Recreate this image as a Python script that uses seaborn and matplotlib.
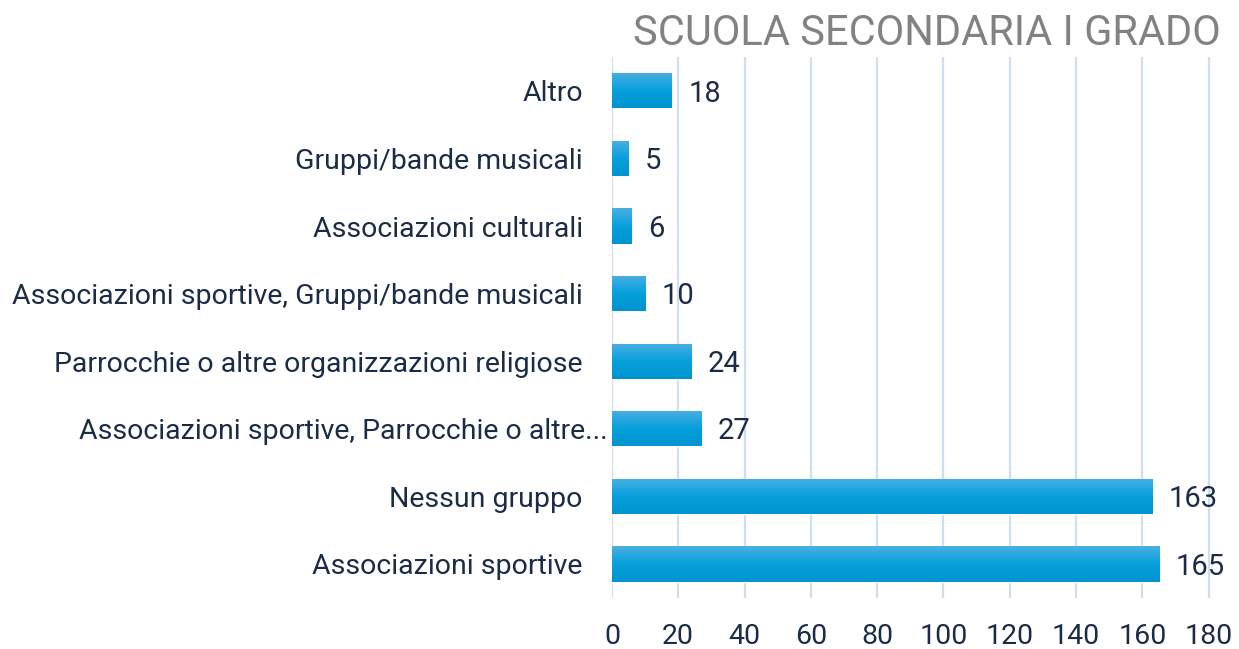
import numpy as np
import pandas as pd
import matplotlib.pyplot as plt
import matplotlib.transforms as mtransforms
import seaborn as sns

categories = [
    "Altro",
    "Gruppi/bande musicali",
    "Associazioni culturali",
    "Associazioni sportive, Gruppi/bande musicali",
    "Parrocchie o altre organizzazioni religiose",
    "Associazioni sportive, Parrocchie o altre...",
    "Nessun gruppo",
    "Associazioni sportive",
]
values = [18, 5, 6, 10, 24, 27, 163, 165]
x_ticks = [0, 20, 40, 60, 80, 100, 120, 140, 160, 180]

df = pd.DataFrame({"categoria": categories, "valore": values})

sns.set_theme(style="white")
plt.rcParams['font.family'] = ['Roboto', 'DejaVu Sans']

text_col = "#1b2c46"
fig = plt.figure(figsize=(12.39, 6.49), dpi=100)
ax = fig.add_axes([0.4939, 0.079, 0.4843, 0.833])

sns.barplot(data=df, y="categoria", x="valore", orient="h", color="#0a9dd9",
            width=0.52, ax=ax, zorder=3)

# vertical gradient on each bar (lighter at the top)
grad = np.linspace(0, 1, 64).reshape(-1, 1)
cmap = plt.matplotlib.colors.LinearSegmentedColormap.from_list(
    "bar", ["#4aafe1", "#07a0dc", "#0094cf"])
for p in ax.patches:
    x0, y0 = p.get_x(), p.get_y()
    w, h = p.get_width(), p.get_height()
    im = ax.imshow(grad, cmap=cmap, aspect="auto", extent=[x0, x0 + w, y0 + h, y0],
                   zorder=3.5)
    im.set_clip_path(p)

for p, v in zip(ax.patches, values):
    ax.text(p.get_width() + 5, p.get_y() + p.get_height() / 2 + 0.04, str(v),
            va="center", ha="left", fontsize=21, color=text_col, zorder=5)

ax.set_xlim(0, 181)
ax.set_ylim(7.5, -0.5)
ax.set_xticks(x_ticks)
ax.set_xticklabels([str(t) for t in x_ticks], fontsize=20.5, color=text_col)
ax.tick_params(axis="x", length=0, pad=18)
ax.tick_params(axis="y", length=0, pad=21, labelsize=20.5, labelcolor=text_col)
ax.set_xlabel("")
ax.set_ylabel("")
ax.grid(axis="x", color="#cfdff0", linewidth=1.6, zorder=0)
ax.set_axisbelow(True)
sns.despine(ax=ax, left=True, bottom=True)

# truncated label sits closer to the axis, like in the original
for lab in ax.get_yticklabels():
    if lab.get_text().endswith("..."):
        lab.set_transform(lab.get_transform() +
                          mtransforms.ScaledTranslation(0.25, 0, fig.dpi_scale_trans))

fig.text(0.985, 0.949, "SCUOLA SECONDARIA I GRADO", ha="right", va="center",
         fontsize=30, color="#828282")

plt.savefig("out.png", dpi=100)
